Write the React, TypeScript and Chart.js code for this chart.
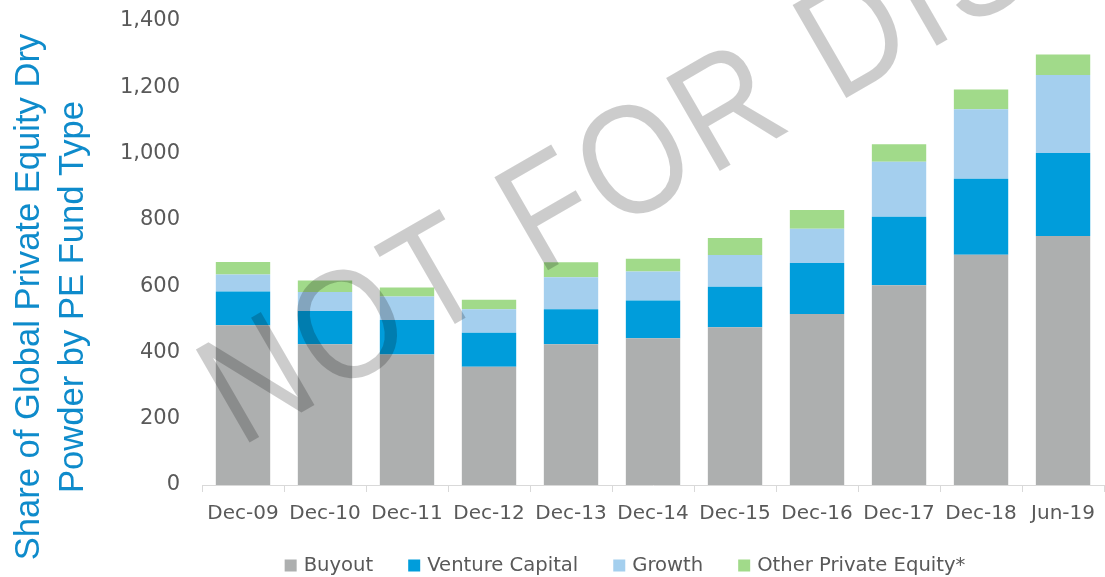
import React, { useEffect, useRef } from "react";
import { Chart, registerables } from "chart.js";

Chart.register(...registerables);

const categories = ["Dec-09", "Dec-10", "Dec-11", "Dec-12", "Dec-13", "Dec-14", "Dec-15", "Dec-16", "Dec-17", "Dec-18", "Jun-19"];
const buyout = [482, 425, 394, 357, 425, 443, 476, 516, 603, 695, 751];
const ventureCapital = [102, 100, 104, 102, 105, 114, 122, 154, 206, 229, 251];
const growth = [51, 57, 71, 71, 97, 87, 96, 103, 166, 210, 235];
const otherPE = [38, 35, 27, 29, 45, 39, 51, 57, 53, 59, 62];
const seriesNames = ["Buyout", "Venture Capital", "Growth", "Other Private Equity*"];
const seriesColors = ["#adafaf", "#009ddb", "#a4cfee", "#a1da8a"];
const titleLines = ["Share of Global Private Equity Dry", "Powder by PE Fund Type"];
const watermark = "NOT FOR DISTRIBUTION";

const extrasPlugin = {
  id: "extras",
  afterDraw(chart: any) {
    const ctx = chart.ctx as CanvasRenderingContext2D;
    // axis title
    ctx.save();
    ctx.fillStyle = "#0e8bcb";
    ctx.font = "34.6px 'Liberation Sans', Arial, sans-serif";
    ctx.textAlign = "center";
    ctx.textBaseline = "alphabetic";
    ctx.translate(39, 297);
    ctx.rotate(-Math.PI / 2);
    ctx.fillText(titleLines[0], 0, 0);
    ctx.fillText(titleLines[1], 0, 44);
    ctx.restore();

    // legend
    ctx.save();
    ctx.font = "19.6px 'DejaVu Sans', sans-serif";
    ctx.textBaseline = "middle";
    ctx.textAlign = "left";
    const box = 12;
    const gapText = 7;
    const gapItem = 35;
    const datasets = chart.data.datasets;
    const widths = datasets.map((d: any) => ctx.measureText(d.label).width);
    let total = 0;
    widths.forEach((w: number, i: number) => {
      total += box + gapText + w + (i < widths.length - 1 ? gapItem : 0);
    });
    let x = 625 - total / 2;
    const cy = 565.5;
    datasets.forEach((d: any, i: number) => {
      ctx.fillStyle = d.backgroundColor;
      ctx.fillRect(x, cy - box / 2, box, box);
      x += box + gapText;
      ctx.fillStyle = "#595959";
      ctx.fillText(d.label, x, cy);
      x += widths[i] + gapItem;
    });
    ctx.restore();

    // watermark
    ctx.save();
    ctx.fillStyle = "rgba(0,0,0,0.2)";
    ctx.font = "156px 'Liberation Sans', Arial, sans-serif";
    ctx.textBaseline = "alphabetic";
    ctx.textAlign = "left";
    (ctx as any).letterSpacing = "7px";
    ctx.translate(240, 448);
    ctx.rotate((-30 * Math.PI) / 180);
    ctx.scale(0.86, 1);
    ctx.fillText(watermark, 0, 0);
    ctx.restore();
  },
};

export default function App() {
  const ref = useRef<HTMLCanvasElement>(null);
  useEffect(() => {
    const values = [buyout, ventureCapital, growth, otherPE];
    const chart: any = new Chart(ref.current as HTMLCanvasElement, {
      type: "bar",
      data: {
        labels: categories,
        datasets: values.map((v, i) => ({
          label: seriesNames[i],
          data: v,
          backgroundColor: seriesColors[i],
          borderWidth: 0,
          barPercentage: 0.663,
          categoryPercentage: 1,
        })),
      },
      options: {
        animation: false,
        responsive: false,
        devicePixelRatio: 1,
        layout: { padding: { top: 21, right: 0, left: 0, bottom: 0 } },
        plugins: {
          legend: { display: false },
          tooltip: { enabled: false },
        },
        scales: {
          x: {
            stacked: true,
            grid: {
              display: true,
              drawOnChartArea: false,
              drawTicks: true,
              tickLength: 7,
              color: "#d9d9d9",
              offset: true,
            },
            border: { display: true, color: "#d9d9d9", width: 1 },
            ticks: {
              color: "#595959",
              font: { family: "'DejaVu Sans', sans-serif", size: 20 },
              padding: 10,
              maxRotation: 0,
              autoSkip: false,
            },
            afterFit: (s: any) => {
              s.height = 92;
            },
          },
          y: {
            stacked: true,
            min: 0,
            max: 1400,
            grid: { display: false, drawTicks: false },
            border: { display: false },
            ticks: {
              stepSize: 200,
              color: "#595959",
              font: { family: "'DejaVu Sans', sans-serif", size: 21 },
              padding: 22,
              callback: (v: any) => Number(v).toLocaleString("en-US"),
            },
            afterFit: (s: any) => {
              s.width = 202;
              s.paddingTop = 0;
              s.paddingBottom = 0;
            },
          },
        },
      },
      plugins: [extrasPlugin],
    });
    for (let i = 0; i < 3; i++) {
      const dt = 21 - chart.chartArea.top;
      if (Math.abs(dt) < 0.5) break;
      chart.options.layout.padding.top = Math.max(0, chart.options.layout.padding.top + dt);
      chart.update();
    }
    return () => chart.destroy();
  }, []);
  return (
    <div style={{ position: "fixed", left: 0, top: 0, width: 1105, height: 577, background: "#fff" }}>
      <canvas ref={ref} width={1105} height={577} style={{ display: "block" }} />
    </div>
  );
}
